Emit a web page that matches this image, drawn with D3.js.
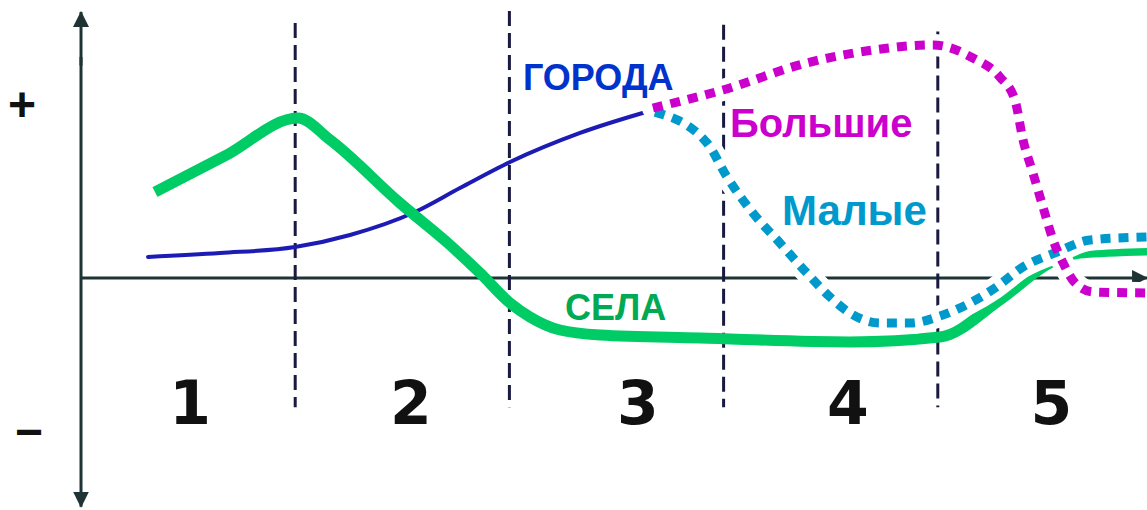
<!DOCTYPE html>
<html>
  <head>
    <meta charset="utf-8">
    <title>Стадии урбанизации</title>
    <script src="https://d3js.org/d3.v7.min.js"></script>
    <style>
      body { margin: 0; background: #fff; }
      svg { display: block; }
      text { font-family: "Liberation Sans", Arial, sans-serif; font-weight: bold; }
      .num { font-family: "DejaVu Sans", sans-serif; font-size: 60px; fill: #111; text-anchor: middle; }
    </style>
  </head>
  <body>
    <svg id="chart" width="1147" height="510">
      <defs>
        <marker id="arrow" markerUnits="userSpaceOnUse" markerWidth="16" markerHeight="18"
                viewBox="0 -9 16 18" refX="15" refY="0" orient="auto">
          <path d="M0,-8L16,0L0,8Z" fill="#1e3434"></path>
        </marker>
      </defs>
    </svg>
    <script>
      // values: x = stage position (0..5), y = index (-1..+1)
      var stages = ["1", "2", "3", "4", "5"];
      var stageLabelX = [0.51, 1.54, 2.6, 3.58, 4.53];
      var boundaries = [1, 2, 3, 4];
      var boundaryTop = [1.5, 1.57, 1.49, 1.45];
      var signLabels = ["+", "−"];
      var signValues = [1.02, -0.9];

      var villageX = [0.345, 0.672, 1.013, 1.163, 1.489, 1.723, 1.863, 2.003, 2.096, 2.236, 2.423, 2.89, 3.59, 4.01, 4.29, 4.524, 4.664, 4.977];
      var villageY = [0.506, 0.718, 0.941, 0.812, 0.441, 0.194, 0.029, -0.147, -0.229, -0.306, -0.335, -0.353, -0.376, -0.347, -0.129, 0.088, 0.147, 0.165];

      var citiesX = [0.313, 0.649, 0.999, 1.256, 1.559, 1.769, 2.003, 2.33, 2.67];
      var citiesY = [0.124, 0.147, 0.182, 0.253, 0.388, 0.529, 0.682, 0.853, 0.988];

      var bigX = [2.67, 2.997, 3.389, 3.697, 3.978, 4.164, 4.29, 4.36, 4.398, 4.444, 4.491, 4.538, 4.585, 4.641, 4.725, 4.977];
      var bigY = [1.0, 1.106, 1.265, 1.341, 1.371, 1.294, 1.182, 1.047, 0.812, 0.618, 0.418, 0.224, 0.088, -0.029, -0.082, -0.088];

      var smallX = [2.68, 2.923, 3.016, 3.137, 3.263, 3.389, 3.497, 3.59, 3.73, 3.87, 4.01, 4.15, 4.267, 4.398, 4.557, 4.711, 4.977];
      var smallY = [0.976, 0.794, 0.594, 0.382, 0.206, 0.029, -0.112, -0.206, -0.265, -0.265, -0.224, -0.147, -0.059, 0.065, 0.153, 0.224, 0.241];

      var seriesNames = ["ГОРОДА", "Большие", "Малые", "СЕЛА"];
      var nameX = [2.063, 3.03, 3.273, 2.26];
      var nameY = [1.106, 0.829, 0.312, -0.247];

      function zip(xs, ys) {
        return xs.map(function(d, i) { return { x: d, y: ys[i] }; });
      }

      var svg = d3.select("#chart");
      var x = d3.scaleLinear().domain([0, 5]).range([81, 1152]);
      var y = d3.scaleLinear().domain([-1, 1]).range([448, 108]);
      var line = d3.line()
        .x(function(d) { return x(d.x); })
        .y(function(d) { return y(d.y); })
        .curve(d3.curveMonotoneX);

      // axes
      svg.append("line")
        .attr("x1", x(0)).attr("x2", x(4.977))
        .attr("y1", y(0)).attr("y2", y(0))
        .attr("stroke", "#1e3434").attr("stroke-width", 3)
        .attr("marker-end", "url(#arrow)");
      svg.append("line")
        .attr("x1", x(0)).attr("x2", x(0))
        .attr("y1", y(1.25)).attr("y2", y(1.565))
        .attr("stroke", "#1e3434").attr("stroke-width", 3)
        .attr("marker-end", "url(#arrow)");
      svg.append("line")
        .attr("x1", x(0)).attr("x2", x(0))
        .attr("y1", y(1.3)).attr("y2", y(-1.345))
        .attr("stroke", "#1e3434").attr("stroke-width", 3)
        .attr("marker-end", "url(#arrow)");

      svg.selectAll(".sign")
        .data(signLabels)
        .enter().append("text")
          .attr("class", "sign")
          .attr("x", function(d, i) { return i ? 29 : 22; })
          .attr("y", function(d, i) { return y(signValues[i]); })
          .attr("dy", "0.35em")
          .attr("text-anchor", "middle")
          .style("font-size", "48px")
          .attr("fill", "#111")
          .text(function(d) { return d; });

      // stage boundaries
      svg.selectAll(".stage")
        .data(boundaries)
        .enter().append("line")
          .attr("class", "stage")
          .attr("x1", function(d) { return x(d); })
          .attr("x2", function(d) { return x(d); })
          .attr("y1", function(d, i) { return y(boundaryTop[i]); })
          .attr("y2", y(-0.76))
          .attr("stroke", "#1a1a40").attr("stroke-width", 3)
          .attr("stroke-dasharray", "15,7");

      svg.selectAll(".num")
        .data(stages)
        .enter().append("text")
          .attr("class", "num")
          .attr("x", function(d, i) { return x(stageLabelX[i]); })
          .attr("y", y(-0.859))
          .text(function(d) { return d; });

      // cities line
      svg.append("path")
        .attr("d", line(zip(citiesX, citiesY)))
        .attr("fill", "none").attr("stroke", "#1c1cb4").attr("stroke-width", 4)
        .attr("stroke-linecap", "round");

      // village line
      svg.append("path")
        .attr("id", "village")
        .attr("d", line(zip(villageX, villageY)))
        .attr("fill", "none").attr("stroke", "#00cc66").attr("stroke-width", 11)
        .attr("stroke-linejoin", "round");

      // dotted lines with white halo
      var dotted = [
        { pts: zip(smallX, smallY), color: "#0099cc" },
        { pts: zip(bigX, bigY), color: "#cc00cc" }
      ];
      dotted.forEach(function(s) {
        svg.append("path")
          .attr("d", line(s.pts))
          .attr("fill", "none").attr("stroke", "#fff").attr("stroke-width", 22)
          .attr("stroke-linecap", "round");
      });
      dotted.forEach(function(s) {
        svg.append("path")
          .attr("d", line(s.pts))
          .attr("fill", "none").attr("stroke", s.color).attr("stroke-width", 9)
          .attr("stroke-dasharray", "10,8");
      });

      // series names
      var nameColors = ["#0033cc", "#cc00cc", "#0099cc", "#00aa55"];
      var nameSizes = [36, 40, 42, 36];
      var names = svg.selectAll(".name")
        .data(seriesNames)
        .enter().append("text")
          .attr("class", "name")
          .attr("x", function(d, i) { return x(nameX[i]); })
          .attr("y", function(d, i) { return y(nameY[i]); })
          .attr("fill", function(d, i) { return nameColors[i]; })
          .style("font-size", function(d, i) { return nameSizes[i] + "px"; })
          .text(function(d) { return d; });
      // white box behind СЕЛА, under the green line
      var sela = names.filter(function(d) { return d === "СЕЛА"; }).node().getBBox();
      svg.insert("rect", "#village")
        .attr("x", sela.x - 3).attr("y", sela.y + 4)
        .attr("width", sela.width + 6).attr("height", sela.height)
        .attr("fill", "#fff");
    </script>
  </body>
</html>
